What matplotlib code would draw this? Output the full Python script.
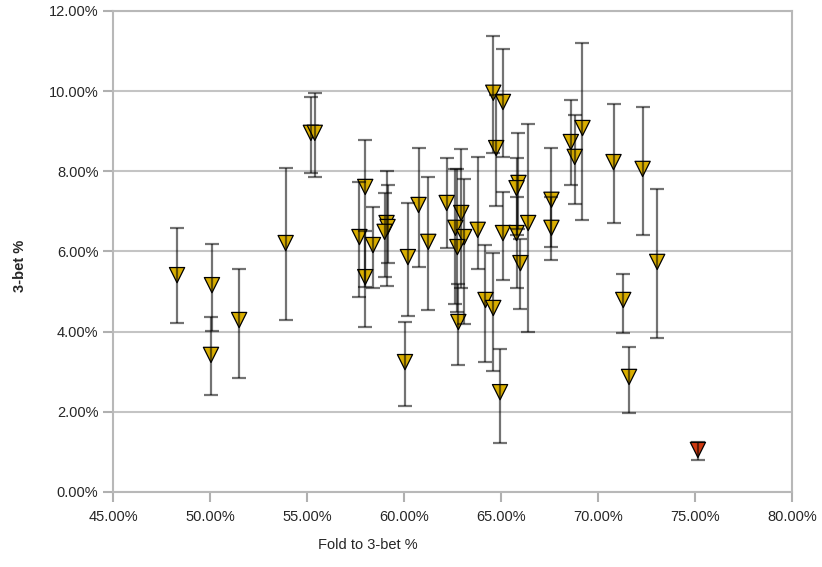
import matplotlib
matplotlib.use('Agg')
import matplotlib.pyplot as plt
import matplotlib.ticker as ticker
import numpy as np

plt.rcParams['font.family'] = 'sans-serif'
plt.rcParams['font.sans-serif'] = ['Liberation Sans', 'DejaVu Sans']

# Fold to 3-bet % (x), 3-bet % (y), and error bar ends (upper / lower), all in %
fold_3bet = [48.3, 50.1, 50.05, 51.5, 53.9, 55.2, 55.4,
             57.7, 58.0, 58.4, 58.0, 59.1, 59.15, 59.0,
             60.2, 60.05, 60.75, 61.25,
             62.2, 62.95, 62.65, 63.1, 62.75, 62.8, 63.8,
             64.2, 64.6, 64.6, 64.75, 65.1, 64.95, 65.1,
             65.9, 65.8, 65.8, 66.0, 66.4,
             67.6, 67.6, 68.6, 68.8, 69.2, 70.8, 72.3, 73.05,
             71.3, 71.6, 75.15]
three_bet = [5.41, 5.16, 3.42, 4.29, 6.21, 8.96, 8.96,
             6.36, 7.61, 6.16, 5.36, 6.71, 6.61, 6.49,
             5.86, 3.24, 7.16, 6.24,
             7.21, 6.96, 6.59, 6.36, 6.11, 4.24, 6.54,
             4.79, 4.59, 9.96, 8.58, 9.73, 2.49, 6.46,
             7.71, 7.58, 6.46, 5.71, 6.71,
             7.29, 6.59, 8.73, 8.36, 9.08, 8.23, 8.06, 5.74,
             4.79, 2.87, 1.05]
err_hi = [6.59, 6.19, 4.37, 5.56, 8.08, 9.85, 9.95,
          7.73, 8.78, 7.11, 6.51, 8.01, 7.66, 7.46,
          7.21, 4.24, 8.58, 7.86,
          8.33, 8.56, 8.06, 7.8, 8.06, 5.2, 8.36,
          6.16, 5.96, 11.38, 9.9, 11.05, 3.57, 7.49,
          8.96, 8.33, 7.35, 6.3, 9.18,
          8.58, 7.35, 9.78, 9.41, 11.2, 9.68, 9.6, 7.56,
          5.44, 3.62, 1.25]
err_lo = [4.22, 4.02, 2.42, 2.84, 4.29, 7.96, 7.86,
          4.87, 5.11, 5.09, 4.12, 5.14, 5.71, 5.36,
          4.39, 2.15, 5.61, 4.54,
          6.09, 5.1, 4.7, 4.2, 4.5, 3.17, 5.56,
          3.24, 3.02, 8.46, 7.14, 8.36, 1.22, 5.29,
          6.55, 6.4, 5.1, 4.57, 3.99,
          6.1, 5.79, 7.66, 7.19, 6.79, 6.71, 6.41, 3.84,
          3.97, 1.97, 0.8]

x = np.array(fold_3bet) / 100
y = np.array(three_bet) / 100
yerr = [y - np.array(err_lo) / 100, np.array(err_hi) / 100 - y]

fig = plt.figure(figsize=(8.22, 5.67), dpi=100)
ax = fig.add_axes([0.1375, 0.1323, 0.8260, 0.8483])

# error bars first, then markers; bars still show through the marker
ax.errorbar(x, y, yerr=yerr, fmt='none', ecolor='black', elinewidth=1.6,
            capsize=5, capthick=1.6, alpha=0.55, zorder=3)
colors = ['#D9AE00'] * (len(x) - 1) + ['#D03A10']
ax.scatter(x, y, marker='v', s=120, c=colors, edgecolors='black',
           linewidths=0.9, zorder=2)

ax.set_xlim(0.45, 0.80)
ax.set_ylim(0.0, 0.12)
ax.xaxis.set_major_locator(ticker.MultipleLocator(0.05))
ax.yaxis.set_major_locator(ticker.MultipleLocator(0.02))
ax.xaxis.set_major_formatter(ticker.PercentFormatter(1.0, decimals=2))
ax.yaxis.set_major_formatter(ticker.PercentFormatter(1.0, decimals=2))

ax.yaxis.grid(True, color='#c4c4c4', linewidth=1.5)
ax.set_axisbelow(True)
for side in ['left', 'bottom', 'right', 'top']:
    ax.spines[side].set_color('#b8b8b8')
    ax.spines[side].set_linewidth(1.5)
ax.tick_params(axis='both', colors='#b0b0b0', width=1.5, length=7,
               labelsize=10.5, labelcolor='#262626')
ax.tick_params(axis='x', pad=6)

fig.text(0.024, 0.531, '3-bet %', rotation=90, ha='center', va='center',
         fontsize=10.5, fontweight='bold', color='#262626')
fig.text(0.448, 0.038, 'Fold to 3-bet %', ha='center', va='center',
         fontsize=10.5, color='#262626')

plt.savefig('out.png', dpi=100, facecolor='white')
